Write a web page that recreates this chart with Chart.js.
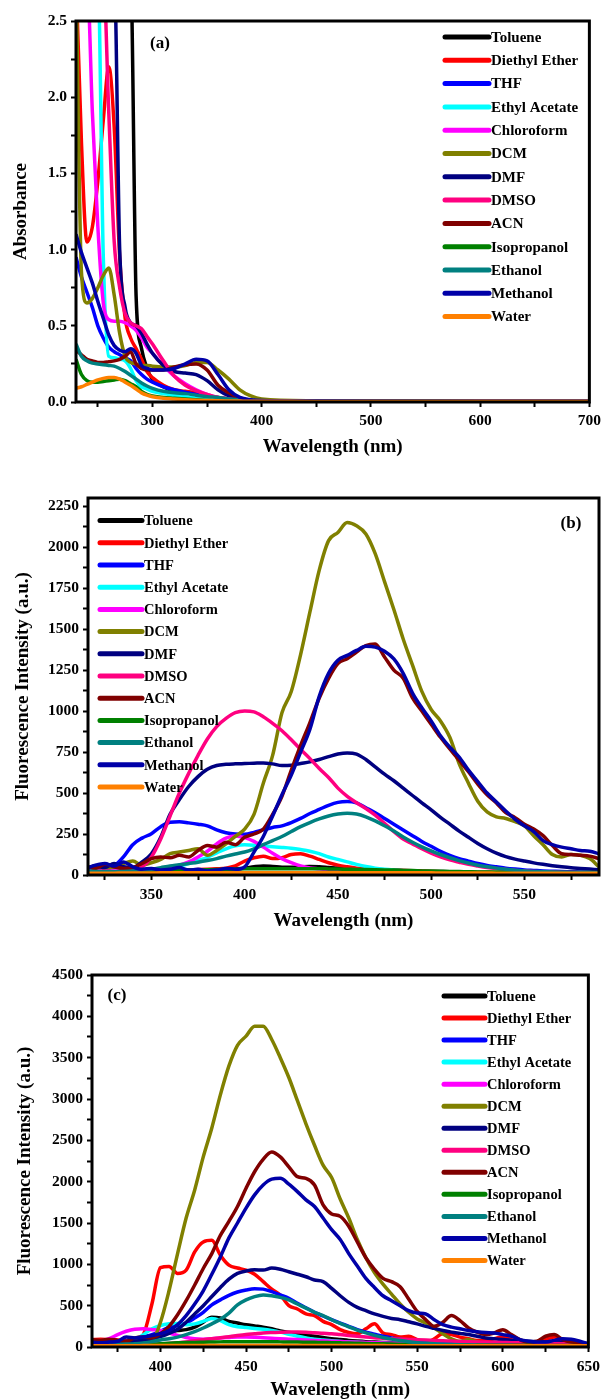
<!DOCTYPE html>
<html>
<head>
<meta charset="utf-8">
<script src="https://cdn.jsdelivr.net/npm/chart.js@4"></script>
<style>
  body { margin: 0; background: #fff; width: 606px; height: 1400px; position: relative; overflow: hidden; }
  .panel { position: absolute; left: 0; width: 606px; }
</style>
</head>
<body>
<div class="panel" style="top:0;height:462px"><canvas id="chartA"></canvas></div>
<div class="panel" style="top:470px;height:465px"><canvas id="chartB"></canvas></div>
<div class="panel" style="top:945px;height:455px"><canvas id="chartC"></canvas></div>
<script>
const NAMES = ['Toluene', 'Diethyl Ether', 'THF', 'Ethyl Acetate', 'Chloroform', 'DCM', 'DMF',
               'DMSO', 'ACN', 'Isopropanol', 'Ethanol', 'Methanol', 'Water'];
const COLORS = ['#000000', '#ff0000', '#0000ff', '#00ffff', '#ff00ff', '#808000', '#000080',
                '#ff0080', '#800000', '#008000', '#008080', '#0000a8', '#ff8000'];

// (a) absorbance, values above 2.5 run off the top of the frame
const A_WL = [230,235,240,245,250,255,260,265,270,275,280,285,290,295,300,310,320,330,340,350,360,370,380,390,400,450,500,600,700];
const A_TOLUENE  = [2.8,2.8,2.8,2.8,2.8,2.8,2.8,2.8,2.8,2.8,2.8,0.7,0.35,0.22,0.15,0.1,0.07,0.06,0.05,0.04,0.03,0.02,0.01,0.008,0.006,0.005,0.005,0.004,0.004];
const A_ETHER    = [2.8,1.7,1.05,1.15,1.45,1.85,2.2,1.8,0.95,0.55,0.42,0.35,0.28,0.2,0.16,0.11,0.08,0.07,0.06,0.04,0.02,0.01,0.008,0.006,0.005,0.004,0.004,0.003,0.003];
const A_THF      = [0.95,0.82,0.72,0.62,0.5,0.42,0.36,0.33,0.31,0.29,0.27,0.22,0.18,0.15,0.13,0.1,0.08,0.065,0.05,0.035,0.02,0.01,0.008,0.006,0.005,0.004,0.004,0.003,0.003];
const A_ETHYL    = [2.8,2.8,2.8,2.8,2.8,0.95,0.3,0.29,0.28,0.27,0.22,0.14,0.1,0.085,0.07,0.055,0.045,0.035,0.028,0.022,0.017,0.012,0.009,0.007,0.005,0.004,0.004,0.003,0.003];
const A_CHLORO   = [2.8,2.8,2.8,1.9,1.15,0.65,0.54,0.53,0.53,0.52,0.5,0.47,0.42,0.36,0.32,0.24,0.17,0.12,0.08,0.05,0.03,0.02,0.01,0.008,0.006,0.005,0.004,0.003,0.003];
const A_DCM      = [2.8,0.85,0.65,0.68,0.75,0.83,0.88,0.7,0.45,0.3,0.26,0.25,0.24,0.24,0.235,0.23,0.23,0.24,0.26,0.26,0.21,0.15,0.08,0.04,0.02,0.008,0.006,0.005,0.005];
const A_DMF      = [2.8,2.8,2.8,2.8,2.8,2.8,2.8,2.8,1.0,0.62,0.52,0.5,0.45,0.38,0.32,0.24,0.2,0.19,0.18,0.14,0.08,0.04,0.02,0.01,0.006,0.005,0.004,0.003,0.003];
const A_DMSO     = [2.8,2.8,2.8,2.8,2.8,2.8,1.9,1.05,0.75,0.58,0.52,0.5,0.48,0.43,0.38,0.27,0.17,0.11,0.075,0.05,0.03,0.02,0.01,0.008,0.006,0.005,0.004,0.003,0.003];
const A_ACN      = [0.34,0.31,0.28,0.27,0.26,0.26,0.265,0.27,0.28,0.3,0.33,0.25,0.22,0.21,0.21,0.21,0.23,0.245,0.25,0.21,0.11,0.06,0.025,0.01,0.005,0.004,0.004,0.003,0.003];
const A_ISO      = [0.28,0.18,0.14,0.13,0.13,0.135,0.14,0.145,0.15,0.14,0.12,0.1,0.07,0.05,0.04,0.03,0.025,0.02,0.015,0.01,0.008,0.006,0.005,0.004,0.003,0.003,0.003,0.002,0.002];
const A_ETHANOL  = [0.38,0.3,0.27,0.255,0.25,0.245,0.24,0.235,0.22,0.2,0.175,0.15,0.125,0.105,0.09,0.07,0.06,0.055,0.045,0.035,0.03,0.02,0.015,0.01,0.007,0.005,0.004,0.003,0.003];
const A_METHANOL = [1.1,0.98,0.88,0.78,0.66,0.55,0.44,0.37,0.34,0.33,0.35,0.32,0.24,0.22,0.21,0.21,0.22,0.25,0.28,0.27,0.18,0.08,0.03,0.015,0.01,0.006,0.005,0.004,0.004];
const A_WATER    = [0.09,0.1,0.115,0.13,0.145,0.155,0.16,0.16,0.15,0.13,0.11,0.085,0.06,0.045,0.035,0.025,0.02,0.015,0.012,0.01,0.008,0.007,0.006,0.005,0.005,0.004,0.004,0.003,0.003];

// (b) fluorescence
const B_WL = [315,320,325,330,335,340,345,350,355,360,365,370,375,380,
              385,390,395,400,405,410,415,420,425,430,435,440,445,450,
              455,460,465,470,475,480,485,490,495,500,505,510,515,520,
              525,530,535,540,545,550,555,560,565,570,575,580,585,590];
const B_TOLUENE = [20,22,25,22,20,22,25,25,25,27,28,30,30,32,
                   33,35,38,42,50,55,52,48,47,50,52,50,46,42,
                   40,38,36,34,32,30,28,26,24,22,21,20,18,17,
                   16,15,14,14,13,12,12,11,11,10,10,10,10,10];
const B_ETHER = [30,45,55,40,35,30,30,28,28,30,30,32,33,35,
                 38,42,55,85,105,115,100,105,125,130,115,95,75,60,
                 50,42,38,35,32,30,28,26,24,22,20,19,18,17,
                 16,15,14,14,13,12,12,11,11,11,10,10,10,10];
const B_THF = [30,35,40,55,110,185,225,252,295,322,325,318,310,300,
               275,258,250,248,260,276,290,300,320,345,375,400,425,443,
               448,440,410,380,345,310,275,240,205,175,145,120,100,85,
               70,58,50,42,36,31,28,25,23,21,20,19,18,18];
const B_ETHYL = [25,28,25,25,28,30,32,35,40,45,55,70,88,108,
                 135,160,178,185,182,176,172,168,163,155,145,130,110,95,
                 80,65,52,42,35,30,26,22,20,18,16,15,14,13,
                 13,12,12,11,11,11,10,10,10,10,10,10,10,10];
const B_CHLORO = [25,25,28,25,25,28,30,35,40,50,60,80,110,145,
                  190,225,238,228,205,170,133,100,75,55,43,38,32,28,
                  25,22,20,19,18,17,16,15,14,14,13,13,12,12,
                  12,11,11,11,11,10,10,10,10,10,10,10,10,10];
const B_DCM = [40,55,45,50,70,85,60,75,95,130,140,150,160,120,
               150,190,235,280,370,560,730,990,1120,1345,1605,1860,2040,2090,
               2150,2130,2080,1960,1790,1620,1440,1280,1120,1010,940,840,680,560,
               450,385,355,345,325,300,240,185,125,110,125,120,100,50];
const B_DMF = [40,55,45,70,50,45,80,130,230,370,460,540,600,645,
               668,675,678,680,682,684,678,668,670,680,690,705,722,738,
               745,738,705,660,615,575,530,485,440,398,352,310,268,230,
               192,160,133,112,97,85,74,65,57,50,44,40,36,32];
const B_DMSO = [20,20,22,20,22,25,50,110,220,360,500,620,730,830,
                905,955,990,1000,995,965,925,880,825,766,710,650,595,530,
                480,441,405,365,315,265,220,190,160,133,110,92,78,65,
                55,46,39,33,28,24,21,19,17,16,15,14,13,12];
const B_ACN = [50,40,65,50,40,45,70,100,110,105,120,110,150,180,
               170,200,185,230,250,280,370,480,640,790,930,1080,1200,1290,
               1320,1360,1400,1410,1330,1250,1200,1080,1000,920,840,770,700,630,
               555,490,440,380,350,310,280,240,180,130,125,120,115,100];
const B_ISO = [20,20,22,20,20,22,24,25,26,27,28,30,30,32,
               33,35,36,38,38,38,38,38,38,38,38,38,37,36,
               35,34,33,32,31,30,28,27,25,24,23,22,21,20,
               19,19,18,18,18,17,17,16,16,16,15,15,15,15];
const B_ETHANOL = [25,22,20,20,22,25,30,35,45,55,62,70,78,88,
                   100,115,128,140,160,185,210,235,265,295,320,342,360,372,
                   377,372,355,330,300,268,232,200,172,147,125,105,88,73,
                   60,50,42,35,29,25,22,20,18,17,16,15,15,14];
const B_METHANOL = [40,60,70,55,80,50,35,40,30,35,45,30,35,25,
                    30,40,35,50,140,235,360,490,610,750,890,1090,1230,1310,
                    1340,1370,1395,1390,1365,1318,1230,1110,1020,940,850,780,720,640,
                    570,500,445,390,340,300,265,210,185,170,160,150,145,130];
const B_WATER = [10,10,11,11,12,12,12,12,13,13,13,13,13,13,
                 14,14,14,14,14,14,14,14,14,14,14,14,14,14,
                 14,14,14,14,13,13,13,13,13,13,12,12,12,12,
                 12,12,11,11,11,11,11,10,10,10,10,10,10,10];

// (c) fluorescence
const C_WL = [360,365,370,375,380,385,390,395,400,405,410,415,420,
              425,430,435,440,445,450,455,460,465,470,475,480,485,
              490,495,500,505,510,515,520,525,530,535,540,545,550,
              555,560,565,570,575,580,585,590,595,600,605,610,615,
              620,625,630,635,640,645,650];
const C_TOLUENE = [40,42,45,50,60,80,100,130,160,185,200,210,240,
                   300,360,350,310,290,270,255,240,220,195,175,160,145,
                   130,115,100,90,80,72,65,60,55,50,45,42,40,
                   38,35,33,32,30,29,28,27,26,25,24,23,22,
                   22,21,21,20,20,20,20];
const C_ETHER = [90,95,90,85,80,90,150,520,960,975,890,930,1150,
                 1270,1290,1110,990,955,930,880,790,700,630,500,460,400,
                 380,310,270,210,175,160,220,280,170,150,120,130,90,
                 50,100,160,150,120,100,80,80,100,120,90,60,50,
                 50,90,120,80,50,40,35];
const C_THF = [40,45,50,60,70,90,120,150,190,240,260,290,350,
               420,510,570,625,665,690,705,700,670,630,590,530,475,
               420,375,330,290,250,210,180,155,130,110,95,82,70,
               60,50,45,40,35,32,30,28,26,25,24,23,22,
               22,21,21,20,20,20,20];
const C_ETHYL = [30,32,35,40,50,80,150,220,260,280,285,270,280,
                 310,345,320,270,245,235,225,215,200,180,155,130,110,
                 95,85,75,68,62,57,52,48,45,42,38,35,32,
                 30,28,26,25,24,22,21,20,19,18,18,17,17,
                 16,16,16,15,15,15,15];
const C_CHLORO = [60,70,100,150,190,215,220,210,200,170,140,115,100,
                  95,100,110,115,120,120,118,112,106,100,95,90,85,
                  80,75,70,66,62,58,55,52,48,45,42,40,38,
                  35,33,31,30,29,28,27,26,25,24,23,22,21,
                  20,20,19,19,18,18,18];
const C_DCM = [50,55,60,60,65,70,75,80,300,680,1130,1560,1900,
               2300,2650,3050,3400,3650,3760,3880,3880,3720,3500,3260,2980,2700,
               2440,2200,2050,1790,1560,1300,1080,900,760,640,520,420,340,
               290,230,160,100,70,90,60,35,25,22,20,18,17,
               16,15,15,15,15,15,15];
const C_DMF = [40,50,45,50,60,70,85,100,125,165,215,300,400,
               500,610,720,820,890,920,935,930,955,940,910,880,850,
               810,790,710,620,540,480,440,400,370,345,330,305,280,
               250,225,200,180,165,150,130,110,100,90,80,75,70,
               65,60,55,50,50,45,40];
const C_DMSO = [20,20,22,22,25,25,28,30,35,42,50,60,75,
                88,100,112,125,138,150,160,170,175,178,180,180,178,
                172,165,160,150,140,130,120,112,106,100,96,92,88,
                84,80,76,72,68,65,62,59,57,55,52,50,47,
                45,43,41,39,37,36,35];
const C_ACN = [90,80,95,80,70,110,120,110,160,250,390,560,750,
               950,1130,1350,1520,1700,1920,2120,2270,2360,2300,2180,2060,2040,
               1960,1720,1610,1580,1460,1270,1080,940,830,790,730,580,430,
               330,250,300,380,320,230,180,150,170,210,150,90,60,
               70,130,150,90,60,50,40];
const C_ISO = [20,20,22,22,25,28,30,35,40,45,50,55,55,
               58,60,62,65,65,65,65,65,64,62,60,60,58,
               56,55,52,50,48,45,42,40,38,36,34,32,30,
               28,27,26,25,24,23,22,22,22,21,21,20,20,
               19,18,18,17,17,16,15];
const C_ETHANOL = [20,22,25,30,35,40,50,65,85,100,120,150,185,
                   230,280,335,410,510,570,610,630,620,600,570,520,470,
                   420,380,330,285,245,205,170,140,115,95,78,64,53,
                   45,38,33,29,26,24,22,20,19,18,17,16,16,
                   15,15,15,15,15,15,15];
const C_METHANOL = [60,50,60,70,120,110,120,140,160,200,270,380,520,
                    680,880,1090,1320,1500,1680,1840,1960,2030,2040,1970,1880,1780,
                    1700,1560,1420,1300,1130,980,830,720,620,560,500,440,410,
                    400,330,270,240,220,200,185,175,170,150,130,90,70,
                    60,60,80,100,95,70,40];
const C_WATER = [15,15,15,16,16,16,17,17,17,18,18,18,18,
                 18,18,18,18,18,18,18,18,18,18,18,18,18,
                 18,18,18,17,17,17,17,17,17,16,16,16,16,
                 16,16,16,16,15,15,15,15,15,15,15,15,15,
                 15,15,15,15,15,15,15];

const SERIF = "'Liberation Serif', 'DejaVu Serif', serif";

// black box round the plot area
const framePlugin = {
    id: 'frame',
    afterDatasetsDraw(chart) {
        const { ctx, chartArea: a } = chart;
        ctx.save();
        ctx.strokeStyle = '#000';
        ctx.lineWidth = 3;
        ctx.strokeRect(a.left, a.top, a.right - a.left, a.bottom - a.top);
        ctx.restore();
    }
};

// legend drawn inside the frame, plus the panel tag
const insideLegend = {
    id: 'insideLegend',
    afterDraw(chart, args, o) {
        const ctx = chart.ctx;
        ctx.save();
        ctx.textBaseline = 'middle';
        ctx.font = 'bold ' + o.size + 'px ' + SERIF;
        chart.data.datasets.forEach((ds, i) => {
            const y = o.y + i * o.gap;
            ctx.strokeStyle = ds.borderColor;
            ctx.lineWidth = 5;
            ctx.lineCap = 'round';
            ctx.beginPath();
            ctx.moveTo(o.x, y);
            ctx.lineTo(o.x + o.len, y);
            ctx.stroke();
            ctx.fillStyle = '#000';
            ctx.fillText(ds.label, o.x + o.len + 2, y + 1);
        });
        ctx.font = 'bold 17px ' + SERIF;
        ctx.textAlign = 'center';
        ctx.fillText(o.tag, o.tagX, o.tagY);
        ctx.restore();
    }
};

function buildChart(id, wl, table, o) {
    const datasets = table.map((vals, i) => ({
        label: NAMES[i],
        data: wl.map((x, k) => ({ x: x, y: vals[k] })),
        borderColor: COLORS[i],
        backgroundColor: COLORS[i],
        borderWidth: 3.5,
        pointRadius: 0,
        fill: false,
        cubicInterpolationMode: 'monotone',
        order: NAMES.length - i
    }));
    const tickFont = { family: SERIF, size: 15.5, weight: 'bold' };
    const titleFont = { family: SERIF, size: 19, weight: 'bold', lineHeight: 1 };
    const grid = { drawOnChartArea: false, drawTicks: true, tickLength: 5, tickWidth: 2, tickColor: '#000' };

    return new Chart(document.getElementById(id), {
        type: 'line',
        data: { datasets },
        options: {
            responsive: true,
            maintainAspectRatio: false,
            animation: false,
            events: [],
            layout: { padding: o.pad },
            plugins: {
                legend: { display: false },
                tooltip: { enabled: false },
                insideLegend: o.legend
            },
            scales: {
                x: {
                    type: 'linear',
                    min: o.x[0], max: o.x[1],
                    afterFit: (s) => { s.height = o.xAxisH; },
                    ticks: {
                        stepSize: o.x[2], includeBounds: false, autoSkip: false, maxRotation: 0,
                        padding: o.xTickPad, color: '#000', font: tickFont,
                        callback: (v) => (v % o.x[3] === 0 ? String(v) : '')
                    },
                    grid: grid,
                    border: { display: false },
                    title: { display: true, text: 'Wavelength (nm)', color: '#000', font: titleFont,
                             padding: { top: 0, bottom: o.xTitlePad } }
                },
                y: {
                    type: 'linear',
                    min: o.y[0], max: o.y[1],
                    afterFit: (s) => { s.width = o.yAxisW; },
                    ticks: {
                        stepSize: o.y[2], includeBounds: false, autoSkip: false,
                        padding: 4, color: '#000', font: tickFont,
                        callback: o.yFmt
                    },
                    grid: grid,
                    border: { display: false },
                    title: { display: true, text: o.yTitle, color: '#000', font: titleFont,
                             padding: { top: o.yTitlePad, bottom: 0 } }
                }
            }
        },
        plugins: [framePlugin, insideLegend]
    });
}

buildChart('chartA', A_WL,
    [A_TOLUENE, A_ETHER, A_THF, A_ETHYL, A_CHLORO, A_DCM, A_DMF, A_DMSO, A_ACN, A_ISO, A_ETHANOL, A_METHANOL, A_WATER], {
    pad: { left: 0, right: 15, top: 21, bottom: 0 },
    x: [230, 700, 50, 100], xAxisH: 60, xTickPad: 5, xTitlePad: 5.5,
    y: [0, 2.5, 0.25], yAxisW: 76, yTitle: 'Absorbance', yTitlePad: 11.5,
    yFmt: (v) => (Math.abs(v * 2 - Math.round(v * 2)) < 1e-6 ? v.toFixed(1) : ''),
    legend: { x: 445, len: 44, y: 37, gap: 23.3, size: 15, tag: '(a)', tagX: 160, tagY: 44 }
});

buildChart('chartB', B_WL,
    [B_TOLUENE, B_ETHER, B_THF, B_ETHYL, B_CHLORO, B_DCM, B_DMF, B_DMSO, B_ACN, B_ISO, B_ETHANOL, B_METHANOL, B_WATER], {
    pad: { left: 0, right: 7, top: 28, bottom: 0 },
    x: [316, 590, 25, 50], xAxisH: 60, xTickPad: 6, xTitlePad: 4.5,
    y: [0, 2300, 125], yAxisW: 88, yTitle: 'Fluorescence Intensity (a.u.)', yTitlePad: 13.5,
    yFmt: (v) => (v % 250 === 0 ? String(v) : ''),
    legend: { x: 100, len: 42, y: 50.6, gap: 22.2, size: 14.5, tag: '(b)', tagX: 571, tagY: 54 }
});

buildChart('chartC', C_WL,
    [C_TOLUENE, C_ETHER, C_THF, C_ETHYL, C_CHLORO, C_DCM, C_DMF, C_DMSO, C_ACN, C_ISO, C_ETHANOL, C_METHANOL, C_WATER], {
    pad: { left: 0, right: 15, top: 30, bottom: 0 },
    x: [360, 650, 25, 50], xAxisH: 53, xTickPad: 6, xTitlePad: 0,
    y: [0, 4500, 250], yAxisW: 92, yTitle: 'Fluorescence Intensity (a.u.)', yTitlePad: 15.5,
    yFmt: (v) => (v % 500 === 0 ? String(v) : ''),
    legend: { x: 444, len: 41, y: 51, gap: 22.04, size: 14.5, tag: '(c)', tagX: 117, tagY: 51 }
});
</script>
</body>
</html>
